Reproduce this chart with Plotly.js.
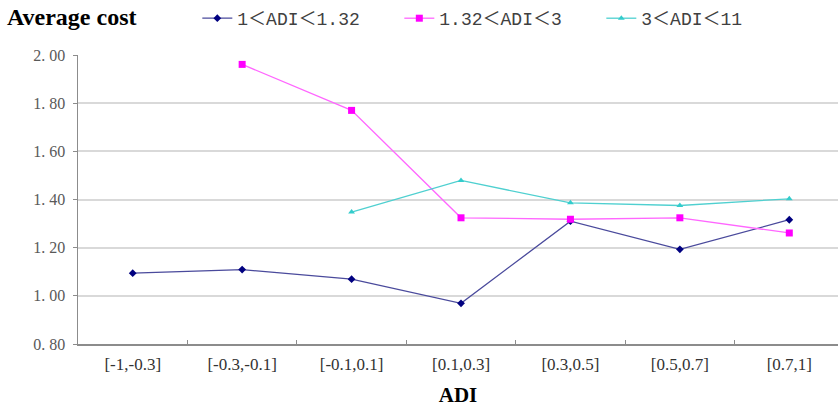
<!DOCTYPE html>
<html>
<head>
<meta charset="utf-8">
<script src="https://cdn.plot.ly/plotly-3.0.1.min.js"></script>
<style>html,body{margin:0;padding:0;background:#fff;}#chart{width:838px;height:410px;}</style>
</head>
<body>
<div id="chart"></div>
<script>
const categories = ["[-1,-0.3]", "[-0.3,-0.1]", "[-0.1,0.1]", "[0.1,0.3]", "[0.3,0.5]", "[0.5,0.7]", "[0.7,1]"];
const seriesNames = ["1＜ADI＜1.32", "1.32＜ADI＜3", "3＜ADI＜11"];
const lowADI = [1.094, 1.109, 1.069, 0.969, 1.310, 1.193, 1.316];
const midADI = [null, 1.961, 1.770, 1.324, 1.318, 1.324, 1.261];
const highADI = [null, null, 1.348, 1.479, 1.386, 1.375, 1.403];
const yTicks = [0.8, 1.0, 1.2, 1.4, 1.6, 1.8, 2.0];
const yTickText = ["0. 80", "1. 00", "1. 20", "1. 40", "1. 60", "1. 80", "2. 00"];

const traces = [
  {x: categories, y: lowADI, name: seriesNames[0], mode: "lines+markers",
   line: {color: "#4a4a9c", width: 1.3}, marker: {symbol: "diamond", size: 6, color: "#000080"}},
  {x: categories, y: midADI, name: seriesNames[1], mode: "lines+markers",
   line: {color: "#ff66ff", width: 1.3}, marker: {symbol: "square", size: 7, color: "#ff00ff"}},
  {x: categories, y: highADI, name: seriesNames[2], mode: "lines+markers",
   line: {color: "#4fd0d0", width: 1.3}, marker: {symbol: "triangle-up", size: 6, color: "#33cccc"}}
];

const layout = {
  width: 838, height: 410,
  margin: {l: 78, r: 0, t: 54, b: 66},
  paper_bgcolor: "#fff", plot_bgcolor: "#fff",
  title: {text: "<b>Average cost</b>", xref: "container", yref: "container",
          x: 7/838, xanchor: "left", y: 1 - 17/410, yanchor: "middle",
          font: {family: "Liberation Serif", size: 24, color: "#000"}},
  showlegend: true,
  legend: {orientation: "h", x: 0.157, xanchor: "left", y: 1.128, yanchor: "middle",
           font: {family: "Liberation Mono, Noto Sans CJK SC", size: 18, color: "#404040"},
           bgcolor: "rgba(0,0,0,0)", entrywidth: 157, entrywidthmode: "pixels", itemwidth: 30},
  xaxis: {type: "category", range: [-0.5, 6.445], showgrid: false,
          showline: true, linecolor: "#8c8c8c", linewidth: 1.5,
          ticks: "inside", ticklen: 4, tickcolor: "#8c8c8c", tickson: "boundaries",
          tickfont: {family: "Liberation Serif", size: 17, color: "#333"},
          ticklabelstandoff: 4,
          title: {text: "<b>ADI</b>", font: {family: "Liberation Serif", size: 21, color: "#000"}, standoff: 14},
          zeroline: false, fixedrange: true},
  yaxis: {range: [0.8, 2.0], tickvals: yTicks, ticktext: yTickText,
          showgrid: true, gridcolor: "#d9d9d9", gridwidth: 2,
          showline: true, linecolor: "#8c8c8c", linewidth: 1.5,
          ticks: "outside", ticklen: 4, tickcolor: "#8c8c8c", ticklabelstandoff: 4,
          tickfont: {family: "Liberation Serif", size: 16, color: "#595959"},
          zeroline: false, fixedrange: true}
};

Plotly.newPlot("chart", traces, layout, {displayModeBar: false, staticPlot: true});
</script>
</body>
</html>
